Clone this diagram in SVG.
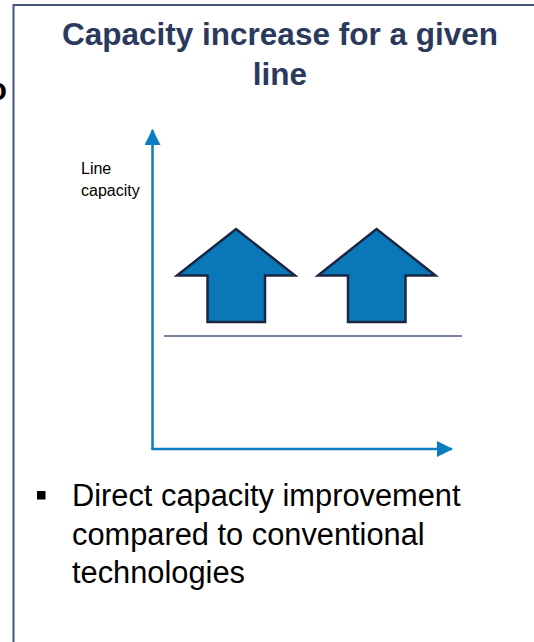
<svg xmlns="http://www.w3.org/2000/svg" width="534" height="642" viewBox="0 0 534 642">
<style>
.title{font-family:"Liberation Sans",Arial,sans-serif;font-weight:bold;font-size:31.5px;fill:#2b3a5c}
.lbl{font-family:"Liberation Sans",Arial,sans-serif;font-size:16px;fill:#000}
.body{font-family:"Liberation Sans",Arial,sans-serif;font-size:30.8px;fill:#000}
.axis{stroke:#0a7cc0;stroke-width:2.5;fill:none}
.up{fill:#0a78b8;stroke:#1b2642;stroke-width:2.5;stroke-linejoin:miter}
</style>
<defs>
<marker id="ah" markerWidth="16" markerHeight="16" viewBox="0 0 16 16" refX="15" refY="8" orient="auto" markerUnits="userSpaceOnUse">
<path d="M0,0 L16,8 L0,16 Z" fill="#0a7cc0"/>
</marker>
</defs>
<rect width="534" height="642" fill="#fff"/>
<text x="7" y="100" text-anchor="end" style="font-family:'Liberation Sans',Arial,sans-serif;font-weight:bold;font-size:31px;fill:#000">o</text>
<g id="panel">
<rect x="13.5" y="5" width="600" height="700" fill="none" stroke="#44547a" stroke-width="2"/>
</g>
<g id="title">
<text class="title" x="280" y="45" text-anchor="middle">Capacity increase for a given</text>
<text class="title" x="280" y="85" text-anchor="middle">line</text>
</g>
<g id="label">
<text class="lbl" x="81" y="174">Line</text>
<text class="lbl" x="81" y="196">capacity</text>
</g>
<g id="connectors">
<path class="axis" d="M152.5,449 L152.5,130" marker-end="url(#ah)"/>
<path class="axis" d="M151.3,449 L452,449" marker-end="url(#ah)"/>
<line x1="164" y1="336" x2="462" y2="336" stroke="#4a5a7a" stroke-width="1.5"/>
</g>
<g id="arrow1">
<polygon class="up" points="236,229 295,275.5 265,275.5 265,322 207.5,322 207.5,275.5 177,275.5"/>
</g>
<g id="arrow2">
<polygon class="up" points="376.5,229 435.5,275.5 405.5,275.5 405.5,322 348,322 348,275.5 318,275.5"/>
</g>
<g id="bullet">
<rect x="37" y="491" width="8.5" height="8.5" fill="#000"/>
<text class="body" x="72" y="506">Direct capacity improvement</text>
<text class="body" x="72" y="545">compared to conventional</text>
<text class="body" x="72" y="583">technologies</text>
</g>
</svg>
